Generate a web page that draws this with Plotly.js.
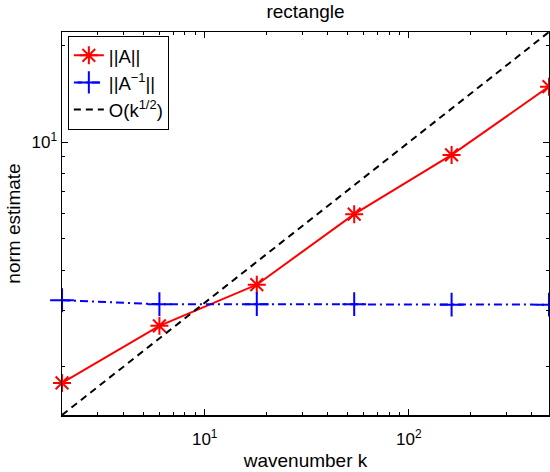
<!DOCTYPE html>
<html>
<head>
<meta charset="utf-8">
<script src="https://cdn.plot.ly/plotly-3.0.1.min.js"></script>
<style>html,body{margin:0;padding:0;background:#fff;}#chart{width:550px;height:472px;}</style>
</head>
<body>
<div id="chart"></div>
<script>
const k = [2, 6, 18, 54, 162, 486];
const normA = [1.78, 2.68, 3.60, 5.97, 9.13, 14.9];
const normAinv = [3.22, 3.13, 3.13, 3.13, 3.12, 3.12];
const refLine = [1.414, 2.449, 4.243, 7.348, 12.73, 22.05];
const seriesNames = ['||A||', '||A<sup>\u22121</sup>||', 'O(k<sup>1/2</sup>)'];

const xTickVals = [10, 100];
const xTickText = ['10<sup>1</sup>', '10<sup>2</sup>'];
const xMinorVals = [3,4,5,6,7,8,9,20,30,40,50,60,70,80,90,200,300,400];
const yTickVals = [10];
const yTickText = ['10<sup>1</sup>'];
const yMinorVals = [2,3,4,5,6,7,8,9,20];

const FONT = 'Liberation Sans, Arial, Helvetica, sans-serif';

const traces = [
  {x: k, y: normA, name: seriesNames[0], type: 'scatter', mode: 'lines+markers',
   line: {color: '#ff0000', width: 2},
   marker: {symbol: 'asterisk-open', size: 15, color: '#ff0000', line: {color: '#ff0000', width: 2}},
   cliponaxis: false},
  {x: k, y: normAinv, name: seriesNames[1], type: 'scatter', mode: 'lines+markers',
   line: {color: '#0000ff', width: 2, dash: '8px,4px,2px,4px'},
   marker: {symbol: 'cross-thin-open', size: 17, color: '#0000ff', line: {color: '#0000ff', width: 2}},
   cliponaxis: false},
  {x: k, y: refLine, name: seriesNames[2], type: 'scatter', mode: 'lines',
   line: {color: '#000000', width: 2, dash: '7px,5px'},
   cliponaxis: false}
];

const allY = normA.concat(normAinv, refLine);
const yMin = Math.min.apply(null, allY), yMax = Math.max.apply(null, allY);
const EPS = 1e-4;

const layout = {
  width: 550, height: 472,
  margin: {l: 62, r: 1, t: 32, b: 57},
  paper_bgcolor: '#fff', plot_bgcolor: '#fff',
  font: {family: FONT, color: '#000', size: 17},
  title: {text: 'rectangle', font: {family: FONT, size: 19, color: '#000'},
          xref: 'paper', x: 0.5, xanchor: 'center', yref: 'container', y: 0.975, yanchor: 'middle'},
  showlegend: true,
  legend: {x: 0.012, y: 0.99, xanchor: 'left', yanchor: 'top',
           bgcolor: '#fff', bordercolor: '#000', borderwidth: 1,
           font: {family: FONT, size: 18.5, color: '#000'}, tracegroupgap: 0, itemwidth: 30},
  xaxis: {type: 'log', range: [Math.log10(k[0]) - EPS, Math.log10(k[k.length-1]) + EPS],
          tickmode: 'array', tickvals: xTickVals, ticktext: xTickText,
          ticks: 'inside', ticklen: 6, tickcolor: '#000', tickwidth: 1, ticklabelstandoff: 8,
          minor: {tickmode: 'array', tickvals: xMinorVals, ticks: 'inside', ticklen: 3, tickcolor: '#000', tickwidth: 1, showgrid: false},
          showgrid: false, zeroline: false, showline: true, linecolor: '#000', linewidth: 1.5, mirror: 'ticks',
          tickfont: {family: FONT, size: 17, color: '#000'},
          title: {text: 'wavenumber k', font: {family: FONT, size: 19, color: '#000'}, standoff: 6}},
  yaxis: {type: 'log', range: [Math.log10(yMin), Math.log10(yMax)],
          tickmode: 'array', tickvals: yTickVals, ticktext: yTickText,
          ticks: 'inside', ticklen: 6, tickcolor: '#000', tickwidth: 1,
          minor: {tickmode: 'array', tickvals: yMinorVals, ticks: 'inside', ticklen: 3, tickcolor: '#000', tickwidth: 1, showgrid: false},
          showgrid: false, zeroline: false, showline: true, linecolor: '#000', linewidth: 1.5, mirror: 'ticks',
          tickfont: {family: FONT, size: 17, color: '#000'},
          title: {text: 'norm estimate', font: {family: FONT, size: 19, color: '#000'}, standoff: 6}}
};

Plotly.newPlot('chart', traces, layout, {displayModeBar: false, staticPlot: true});
</script>
</body>
</html>
